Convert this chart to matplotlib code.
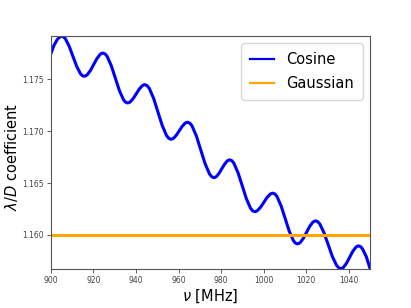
import numpy as np
import matplotlib
matplotlib.use("Agg")
import matplotlib.pyplot as plt

# frequencies [MHz] and lambda/D coefficient
freq = [900.0, 901.5, 903.0, 904.0,
        905.0, 905.88, 906.77, 908.53, 910.3, 912.07, 913.83, 914.72,
        915.6, 916.34, 917.08, 918.57, 920.05, 921.53, 923.02, 923.76,
        924.5, 925.46, 926.42, 928.33, 930.25, 932.17, 934.08, 935.04,
        936.0, 936.68, 937.37, 938.73, 940.1, 941.47, 942.83, 943.52,
        944.2, 945.22, 946.23, 948.27, 950.3, 952.33, 954.37, 955.38,
        956.4, 957.06, 957.72, 959.03, 960.35, 961.67, 962.98, 963.64,
        964.3, 965.33, 966.35, 968.4, 970.45, 972.5, 974.55, 975.58,
        976.6, 977.23, 977.85, 979.1, 980.35, 981.6, 982.85, 983.48,
        984.1, 985.08, 986.05, 988.0, 989.95, 991.9, 993.85, 994.83,
        995.8, 996.52, 997.23, 998.67, 1000.1, 1001.53, 1002.97, 1003.68,
        1004.4, 1005.36, 1006.32, 1008.23, 1010.15, 1012.07, 1013.98, 1014.94,
        1015.9, 1016.62, 1017.33, 1018.77, 1020.2, 1021.63, 1023.07, 1023.78,
        1024.5, 1025.48, 1026.47, 1028.43, 1030.4, 1032.37, 1034.33, 1035.32,
        1036.3, 1037.0, 1037.7, 1039.1, 1040.5, 1041.9, 1043.3, 1044.0,
        1044.7, 1045.6, 1046.5, 1048.3, 1050.0]
cosine = [1.17750, 1.17830, 1.17885, 1.17905,
          1.17917, 1.17910, 1.17891, 1.17820, 1.17723, 1.17626, 1.17555, 1.17536,
          1.17529, 1.17533, 1.17544, 1.17585, 1.17641, 1.17697, 1.17738, 1.17749,
          1.17753, 1.17745, 1.17721, 1.17633, 1.17513, 1.17392, 1.17304, 1.17280,
          1.17272, 1.17275, 1.17284, 1.17316, 1.17360, 1.17404, 1.17436, 1.17445,
          1.17448, 1.17439, 1.17413, 1.17317, 1.17185, 1.17054, 1.16957, 1.16931,
          1.16922, 1.16925, 1.16933, 1.16963, 1.17004, 1.17045, 1.17075, 1.17083,
          1.17086, 1.17077, 1.17050, 1.16953, 1.16819, 1.16686, 1.16588, 1.16561,
          1.16552, 1.16555, 1.16563, 1.16595, 1.16638, 1.16680, 1.16712, 1.16720,
          1.16723, 1.16715, 1.16690, 1.16598, 1.16474, 1.16349, 1.16257, 1.16232,
          1.16224, 1.16227, 1.16236, 1.16269, 1.16313, 1.16358, 1.16390, 1.16399,
          1.16402, 1.16394, 1.16369, 1.16280, 1.16158, 1.16035, 1.15946, 1.15921,
          1.15913, 1.15917, 1.15928, 1.15969, 1.16024, 1.16080, 1.16120, 1.16131,
          1.16135, 1.16127, 1.16104, 1.16020, 1.15905, 1.15790, 1.15706, 1.15683,
          1.15675, 1.15679, 1.15690, 1.15730, 1.15785, 1.15839, 1.15879, 1.15890,
          1.15894, 1.15887, 1.15865, 1.15790, 1.15680]
gaussian = 1.160

xticks = [900, 920, 940, 960, 980, 1000, 1020, 1040]
yticks = [1.160, 1.165, 1.170, 1.175]

fig = plt.figure(figsize=(4.11, 3.08), dpi=100)
ax = fig.add_axes([0.124, 0.128, 0.776, 0.755])

ax.plot(freq, cosine, color='blue', lw=2.2, label='Cosine')
ax.plot([freq[0], freq[-1]], [gaussian, gaussian], color='orange', lw=2.2, label='Gaussian')

ax.set_xlim(900, 1050)
ax.set_ylim(min(cosine), max(cosine))
ax.set_xticks(xticks)
ax.set_yticks(yticks)
ax.set_yticklabels(['%.3f' % t for t in yticks])

ax.tick_params(labelsize=5.5, colors='#444444', length=3, width=0.6, pad=2)
for s in ax.spines.values():
    s.set_color('#555555')
    s.set_linewidth(0.8)

ax.set_xlabel(r'$\nu$ [MHz]', fontsize=10.5, labelpad=2)
ax.set_ylabel(r'$\lambda/D$ coefficient', fontsize=10.5)
ax.yaxis.set_label_coords(-0.098, 0.48)
leg = ax.legend(loc='upper right', fontsize=10.5, handlelength=1.7,
                labelspacing=0.6, borderpad=0.6)
for h in leg.get_lines():
    h.set_linewidth(1.6)

fig.savefig('out.png', dpi=100)
